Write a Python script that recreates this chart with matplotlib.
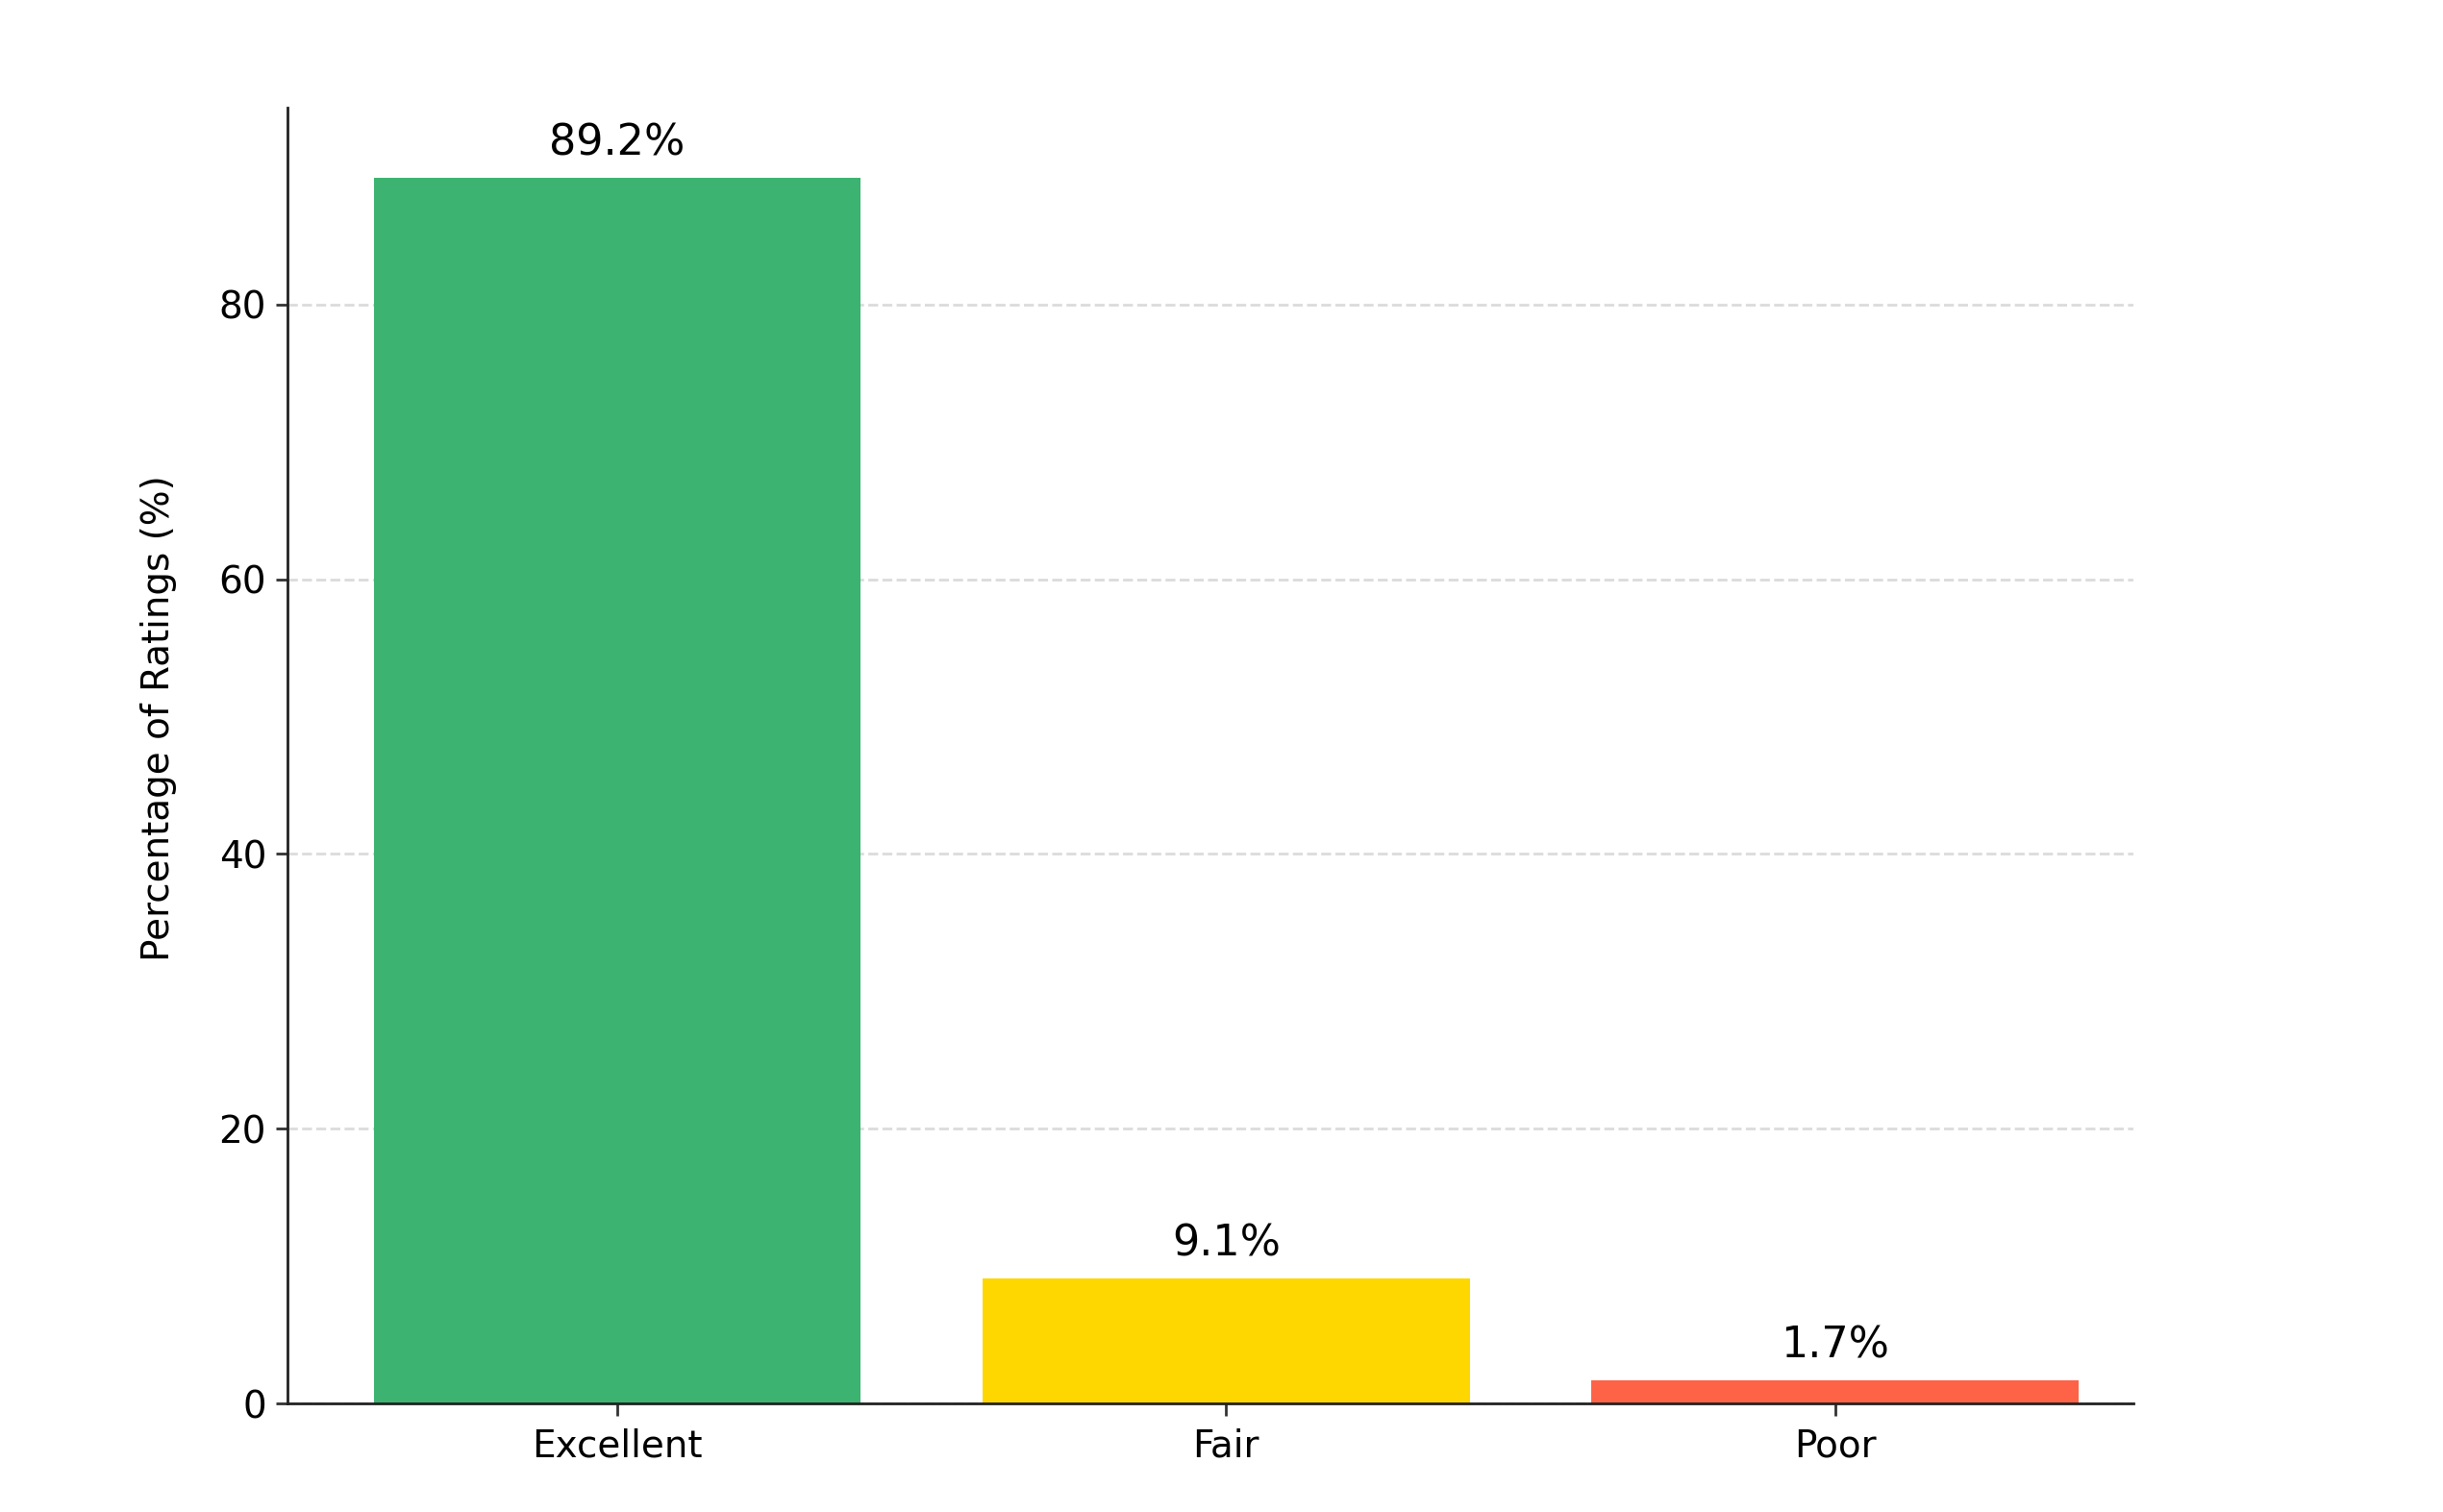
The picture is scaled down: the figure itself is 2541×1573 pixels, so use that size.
import matplotlib
matplotlib.use("Agg")
import matplotlib.pyplot as plt

categories = ["Excellent", "Fair", "Poor"]
values = [89.2, 9.1, 1.7]
colors = ["#3CB371", "#FFD700", "#FF6347"]

DPI = 200
fig = plt.figure(figsize=(2541 / DPI, 1573 / DPI), dpi=DPI)
ax = fig.add_axes([0.1178, 0.0718, 0.8733 - 0.1178, 0.929 - 0.0718])

x = list(range(len(categories)))
ax.bar(x, values, width=0.8, color=colors, zorder=2)
for xi, v in zip(x, values):
    ax.text(xi, v + 1, f"{v}%", ha="center", va="bottom", fontsize=16, color="black")

ax.set_xticks(x)
ax.set_xticklabels(categories, fontsize=14)
ax.tick_params(axis="y", labelsize=14)
ax.tick_params(axis="x", pad=4.5)
ax.tick_params(axis="both", length=4.5, width=1.0, color="#333333")
ax.set_ylabel("Percentage of Ratings (%)", fontsize=14)
ax.yaxis.set_label_coords(-0.060, 0.529)
ax.set_xlim(-0.541, 2.49)
ax.set_ylim(0, 94.35)
ax.set_yticks([0, 20, 40, 60, 80])
ax.yaxis.grid(True, linestyle="--", color="#cccccc", alpha=0.7, linewidth=1.0, zorder=0)
ax.set_axisbelow(True)
for s in ["top", "right"]:
    ax.spines[s].set_visible(False)
for s in ["left", "bottom"]:
    ax.spines[s].set_linewidth(1.0)
    ax.spines[s].set_color("#222222")

fig.savefig("out.png", dpi=DPI)
